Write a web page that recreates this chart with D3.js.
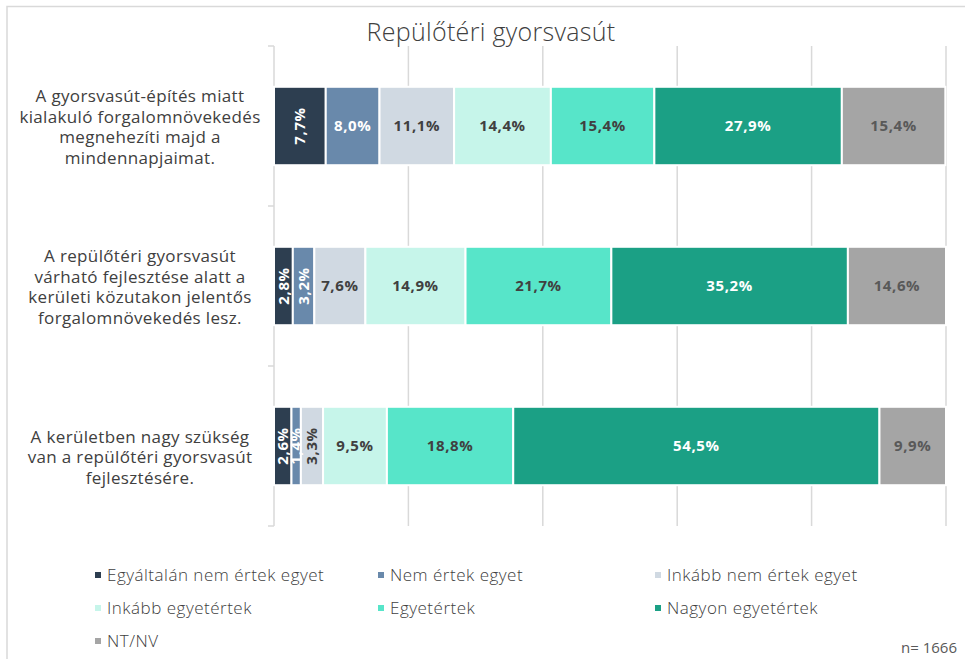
<!DOCTYPE html>
<html lang="hu">
<head>
  <meta charset="UTF-8">
  <title>Repülőtéri gyorsvasút</title>
  <script src="https://d3js.org/d3.v7.min.js"></script>
  <style>
    body { margin: 0; background: #fff; }
    svg { display: block; font-family: "Open Sans", sans-serif; }
    .title { font-size: 25px; font-weight: 300; fill: #404040; text-anchor: middle; letter-spacing: 0.3px; }
    .cat { font-size: 17px; fill: #404040; text-anchor: middle; letter-spacing: 0.35px; }
    .val { font-size: 15px; font-weight: 700; text-anchor: middle; letter-spacing: 0.6px; }
    .leg { font-size: 17px; font-weight: 300; fill: #404040; letter-spacing: 0.5px; }
    .note { font-size: 15px; fill: #595959; text-anchor: end; }
  </style>
</head>
<body>
  <svg width="965" height="659"></svg>
  <script>
    const categories = [
      ["A gyorsvasút-építés miatt", "kialakuló forgalomnövekedés", "megnehezíti majd a", "mindennapjaimat."],
      ["A repülőtéri gyorsvasút", "várható fejlesztése alatt a", "kerületi közutakon jelentős", "forgalomnövekedés lesz."],
      ["A kerületben nagy szükség", "van a repülőtéri gyorsvasút", "fejlesztésére."]
    ];
    const series = ["Egyáltalán nem értek egyet", "Nem értek egyet", "Inkább nem értek egyet",
      "Inkább egyetértek", "Egyetértek", "Nagyon egyetértek", "NT/NV"];
    const colors = ["#2d3e50", "#6989ab", "#d0d9e2", "#c6f5ea", "#57e5c9", "#1ba085", "#a5a5a5"];
    const labelColors = ["#fff", "#fff", "#404040", "#404040", "#404040", "#fff", "#595959"];
    // rows follow categories, columns follow series
    const values = [
      [7.7, 8.0, 11.1, 14.4, 15.4, 27.9, 15.4],
      [2.8, 3.2, 7.6, 14.9, 21.7, 35.2, 14.6],
      [2.6, 1.4, 3.3, 9.5, 18.8, 54.5, 9.9]
    ];
    const xTicks = [0, 20, 40, 60, 80, 100];
    // labels that Excel turned on their side
    const rotated = [[0, 0], [1, 0], [1, 1], [2, 0], [2, 1], [2, 2]];

    const svg = d3.select("svg");

    // outer frame
    svg.append("path")
      .attr("d", "M7,659V6.5H965")
      .attr("fill", "none").attr("stroke", "#d9d9d9").attr("stroke-width", 1.5);

    svg.append("text").attr("class", "title")
      .attr("x", 491).attr("y", 41)
      .text("Repülőtéri gyorsvasút");

    const x = d3.scaleLinear().domain([0, 100]).range([274, 946]);
    const y = d3.scaleBand().domain(d3.range(categories.length))
      .range([46, 526]).paddingInner(0.51).paddingOuter(0.255);

    // vertical gridlines
    svg.append("g").selectAll("line").data(xTicks.slice(1)).join("line")
      .attr("x1", d => x(d)).attr("x2", d => x(d))
      .attr("y1", 46).attr("y2", 526)
      .attr("stroke", "#d9d9d9").attr("stroke-width", 1.5);

    // category axis with ticks at band edges
    const edges = d3.range(categories.length + 1).map(i => 46 + i * y.step());
    svg.append("line")
      .attr("x1", x(0)).attr("x2", x(0)).attr("y1", 46).attr("y2", 526)
      .attr("stroke", "#d9d9d9").attr("stroke-width", 1.5);
    svg.append("g").selectAll("line").data(edges).join("line")
      .attr("x1", x(0) - 6).attr("x2", x(0)).attr("y1", d => d).attr("y2", d => d)
      .attr("stroke", "#d9d9d9").attr("stroke-width", 1.5);

    // category labels (block of 4 lines, bottom aligned)
    const lh = 20.5;
    categories.forEach((lines, i) => {
      const c = y(i) + y.bandwidth() / 2 + 1;
      const n = lines.length;
      svg.append("text").attr("class", "cat")
        .selectAll("tspan").data(lines).join("tspan")
        .attr("x", 140)
        .attr("y", (d, j) => c + (j - (n - 1) / 2) * lh + (4 - n) * lh / 2 + 6)
        .text(d => d);
    });

    // stacked bars
    const rows = values.map((v, i) => {
      const o = { row: i };
      series.forEach((s, j) => o[s] = v[j]);
      return o;
    });
    const stacked = d3.stack().keys(series)(rows);

    const layer = svg.append("g").selectAll("g").data(stacked).join("g")
      .attr("fill", (d, j) => colors[j]);

    layer.selectAll("rect").data(d => d).join("rect")
      .attr("x", d => x(d[0]))
      .attr("y", d => y(d.data.row))
      .attr("width", d => x(d[1]) - x(d[0]))
      .attr("height", y.bandwidth())
      .attr("stroke", "#fff").attr("stroke-width", 2);

    const fmt = v => v.toFixed(1).replace(".", ",") + "%";
    stacked.forEach((s, j) => {
      s.forEach(d => {
        const r = d.data.row;
        const cx = (x(d[0]) + x(d[1])) / 2;
        const cy = y(r) + y.bandwidth() / 2;
        const rot = rotated.some(p => p[0] === r && p[1] === j);
        svg.append("text").attr("class", "val")
          .attr("transform", `translate(${cx},${cy}) rotate(${rot ? -90 : 0})`)
          .attr("dy", "0.35em")
          .attr("fill", labelColors[j])
          .text(fmt(d[1] - d[0]));
      });
    });

    // legend
    const legX = [98, 381, 658];
    const legY = [575, 608, 641];
    const leg = svg.append("g").selectAll("g").data(series).join("g")
      .attr("transform", (d, i) => `translate(${legX[i % 3]},${legY[Math.floor(i / 3)]})`);
    leg.append("rect").attr("x", -3).attr("y", -3).attr("width", 6).attr("height", 6)
      .attr("fill", (d, i) => colors[i]);
    leg.append("text").attr("class", "leg").attr("x", 9).attr("dy", "0.35em").text(d => d);

    svg.append("text").attr("class", "note")
      .attr("x", 957).attr("y", 653).text("n= 1666");
  </script>
</body>
</html>
